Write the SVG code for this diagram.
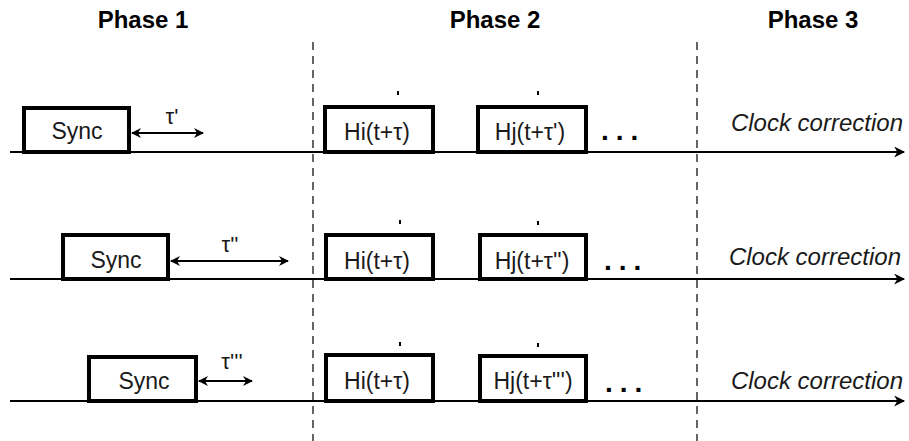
<svg xmlns="http://www.w3.org/2000/svg" width="909" height="441" viewBox="0 0 909 441">
<defs>
<marker id="ah" viewBox="0 0 10 10" refX="9" refY="5" markerWidth="11" markerHeight="10" markerUnits="userSpaceOnUse" orient="auto-start-reverse"><path d="M0,0 L10,5 L0,10 L3,5 z" fill="#000"/></marker>
<marker id="ahb" viewBox="0 0 10 10" refX="9" refY="5" markerWidth="15" markerHeight="11" markerUnits="userSpaceOnUse" orient="auto"><path d="M0,0 L10,5 L0,10 L3,5 z" fill="#000"/></marker>
</defs>
<style>
.box{fill:#fff;stroke:#000;stroke-width:4}
.t{font-family:"Liberation Sans",Arial,sans-serif;font-size:23px;fill:#1a1a1a;text-anchor:middle}
.tau{font-family:"Liberation Sans",Arial,sans-serif;font-size:22px;fill:#1a1a1a;text-anchor:middle}
.ph{font-family:"Liberation Sans",Arial,sans-serif;font-size:24px;font-weight:bold;fill:#000;text-anchor:middle}
.cc{font-family:"Liberation Sans",Arial,sans-serif;font-size:24px;font-style:italic;fill:#1a1a1a;text-anchor:end}
.dots{font-family:"Liberation Sans",Arial,sans-serif;font-size:28px;font-weight:bold;fill:#000;letter-spacing:7px}
.base{stroke:#000;stroke-width:2;fill:none}
.dash{stroke:#333;stroke-width:1.5;stroke-dasharray:8,6;fill:none}
.dbl{stroke:#000;stroke-width:2;fill:none}
.tick{fill:#000}
</style>
<g id="phases">
<text class="ph" x="143" y="28">Phase 1</text>
<text class="ph" x="495" y="28">Phase 2</text>
<text class="ph" x="813" y="28">Phase 3</text>
</g>
<g id="connectors">
<line class="dash" x1="313" y1="42" x2="313" y2="441"/>
<line class="dash" x1="697" y1="42" x2="697" y2="441"/>
<line class="base" x1="10" y1="152" x2="904" y2="152" marker-end="url(#ahb)"/>
<line class="base" x1="10" y1="279" x2="904" y2="279" marker-end="url(#ahb)"/>
<line class="base" x1="10" y1="401" x2="904" y2="401" marker-end="url(#ahb)"/>
<line class="dbl" x1="132" y1="133" x2="203" y2="133" marker-start="url(#ah)" marker-end="url(#ah)"/>
<line class="dbl" x1="171" y1="261" x2="288" y2="261" marker-start="url(#ah)" marker-end="url(#ah)"/>
<line class="dbl" x1="199" y1="381" x2="252" y2="381" marker-start="url(#ah)" marker-end="url(#ah)"/>
</g>
<g id="row1">
<g id="sync1"><rect class="box" x="24" y="108" width="105" height="44"/><text class="t" x="77" y="139">Sync</text></g>
<text class="tau" x="172" y="124">τ'</text>
<g id="hi1"><rect class="box" x="325" y="107" width="108" height="45"/><text class="t" x="377" y="140">Hi(t+τ)</text><rect class="tick" x="397" y="91" width="2" height="4"/></g>
<g id="hj1"><rect class="box" x="478" y="107" width="108" height="45"/><text class="t" x="530" y="140">Hj(t+τ')</text><rect class="tick" x="537" y="91" width="2" height="4"/></g>
<text class="dots" x="601" y="140">...</text>
<text class="cc" x="903" y="131">Clock correction</text>
</g>
<g id="row2">
<g id="sync2"><rect class="box" x="63" y="235" width="105" height="44"/><text class="t" x="116" y="268">Sync</text></g>
<text class="tau" x="230" y="252">τ''</text>
<g id="hi2"><rect class="box" x="326" y="235" width="107" height="44"/><text class="t" x="377" y="269">Hi(t+τ)</text><rect class="tick" x="399" y="220" width="2" height="4"/></g>
<g id="hj2"><rect class="box" x="480" y="235" width="106" height="44"/><text class="t" x="532" y="269">Hj(t+τ'')</text><rect class="tick" x="537" y="221" width="2" height="4"/></g>
<text class="dots" x="604" y="270">...</text>
<text class="cc" x="901" y="265">Clock correction</text>
</g>
<g id="row3">
<g id="sync3"><rect class="box" x="89" y="357" width="107" height="44"/><text class="t" x="144" y="389">Sync</text></g>
<text class="tau" x="232" y="369">τ'''</text>
<g id="hi3"><rect class="box" x="326" y="355" width="107" height="46"/><text class="t" x="377" y="389">Hi(t+τ)</text><rect class="tick" x="399" y="342" width="2" height="4"/></g>
<g id="hj3"><rect class="box" x="480" y="356" width="106" height="45"/><text class="t" x="533" y="389">Hj(t+τ''')</text><rect class="tick" x="537" y="343" width="2" height="4"/></g>
<text class="dots" x="605" y="392">...</text>
<text class="cc" x="903" y="389">Clock correction</text>
</g>
</svg>
